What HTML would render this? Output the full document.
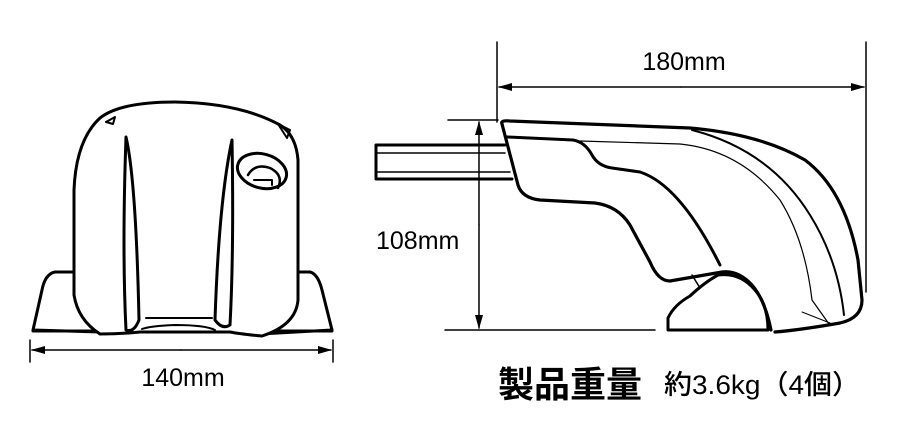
<!DOCTYPE html>
<html><head><meta charset="utf-8"><style>
html,body{margin:0;padding:0;background:#fff;}
svg{display:block;}
</style></head><body>
<svg width="900" height="433" viewBox="0 0 900 433" xmlns="http://www.w3.org/2000/svg">
<defs><marker id="a" markerWidth="14" markerHeight="8" refX="13" refY="4" orient="auto" markerUnits="userSpaceOnUse"><path d="M0,0 L14,4 L0,8 z" fill="#000"/></marker></defs>
<g fill="none" stroke="#000" stroke-linecap="round" stroke-linejoin="round">
<!-- left object base -->
<path d="M72,272 L55,272 Q45,274 42,290 L33,330 L100,332" stroke-width="3"/>
<path d="M300,272 L310,272 Q318,274 322,290 L332,330 L260,334" stroke-width="3"/>
<path d="M33,331 L332,331" stroke-width="3"/>
<!-- left body -->
<path d="M100,334 Q78,320 74,295 L74,190 Q76,140 100,118 Q120,102 175,102 Q240,103 280,125 Q296,135 298,160 L298,300 Q296,325 262,336 Q240,334 230,332 L140,332 Q120,334 100,334" stroke-width="3" fill="#fff"/>
<path d="M106,122 L115,117 L113,124 Z M278,124 L290,130 L287,138 Z" stroke-width="2"/>
<path d="M126,137 Q136,180 139,320 Q134,333 126,330 Q122,250 126,137 Z" stroke-width="3"/>
<path d="M232,140 Q219,200 215,320 Q222,330 230,325 Q234,250 232,140 Z" stroke-width="3"/>
<ellipse cx="262" cy="171" rx="25" ry="17" transform="rotate(15 262 171)" stroke-width="3"/>
<path d="M248,175 Q255,163 270,168 Q284,175 278,188" stroke-width="2.5"/>
<path d="M254,180 L272,180 L272,185" stroke-width="2"/>
<path d="M146,318 L212,318" stroke-width="2"/>
<path d="M142,329 Q150,326 175,325 Q205,325 215,330" stroke-width="2"/>
<!-- 140 dimension -->
<path d="M30,340 L30,362 M333,340 L333,362" stroke-width="1.5"/>
<path d="M181,350 L32,350" stroke-width="1.5" marker-end="url(#a)"/>
<path d="M181,350 L331,350" stroke-width="1.5" marker-end="url(#a)"/>
<!-- bar -->
<path d="M505,145 L376,145 L376,179 L512,179" stroke-width="3"/>
<path d="M376,153 L505,153 M376,172 L510,172" stroke-width="1.5"/>
<!-- right body -->
<path d="M502,124 Q500,120 510,121 L690,128 Q760,134 805,160 Q845,190 858,260 L862,300 Q862,318 840,323 Q800,330 775,332" stroke-width="3.2"/>
<path d="M502,124 L518,185 Q522,198 540,200 L595,203 Q618,206 630,225 L650,262 Q658,281 670,281 L722,272 Q738,270 752,285 Q765,300 771,330" stroke-width="3.2"/>
<path d="M507,137 L573,140 Q585,142 592,155 Q598,166 612,168 L640,172 Q680,185 720,265" stroke-width="3"/>
<path d="M580,141 L680,144 Q740,150 780,200 Q805,240 812,300 L829,324" stroke-width="1.2"/>
<path d="M692,130 Q770,150 810,215 Q838,260 844,315" stroke-width="2"/>
<path d="M802,312 L830,323" stroke-width="1"/>
<path d="M668,328 L668,318 Q674,305 690,296 Q705,282 718,275 Q740,272 755,290 Q768,305 768,330 L668,330 Z" stroke-width="3"/>
<path d="M692,275 L700,288" stroke-width="1.5"/>
<!-- dimensions right -->
<path d="M497,42 L497,122 M866,42 L866,292" stroke-width="1.5"/>
<path d="M681,87 L499,87" stroke-width="1.5" marker-end="url(#a)"/>
<path d="M681,87 L864,87" stroke-width="1.5" marker-end="url(#a)"/>
<path d="M448,120 L498,120 M445,330 L655,330" stroke-width="1.5"/>
<path d="M479,225 L479,122" stroke-width="1.5" marker-end="url(#a)"/>
<path d="M479,225 L479,328" stroke-width="1.5" marker-end="url(#a)"/>
</g>
<g font-family="Liberation Sans, 'Noto Sans CJK JP', sans-serif" fill="#000">
<text x="684" y="70" font-size="25" text-anchor="middle">180mm</text>
<text x="376" y="249" font-size="25">108mm</text>
<text x="183" y="386" font-size="25" text-anchor="middle">140mm</text>
<text x="498" y="397" font-size="36" font-weight="bold" font-family="'Noto Sans CJK JP', sans-serif">製品重量</text>
<text x="664" y="394" font-size="27" font-weight="500" font-family="'Liberation Sans','Noto Sans CJK JP', sans-serif" textLength="196" lengthAdjust="spacingAndGlyphs">約3.6kg（4個）</text>
</g>
</svg>
</body></html>
